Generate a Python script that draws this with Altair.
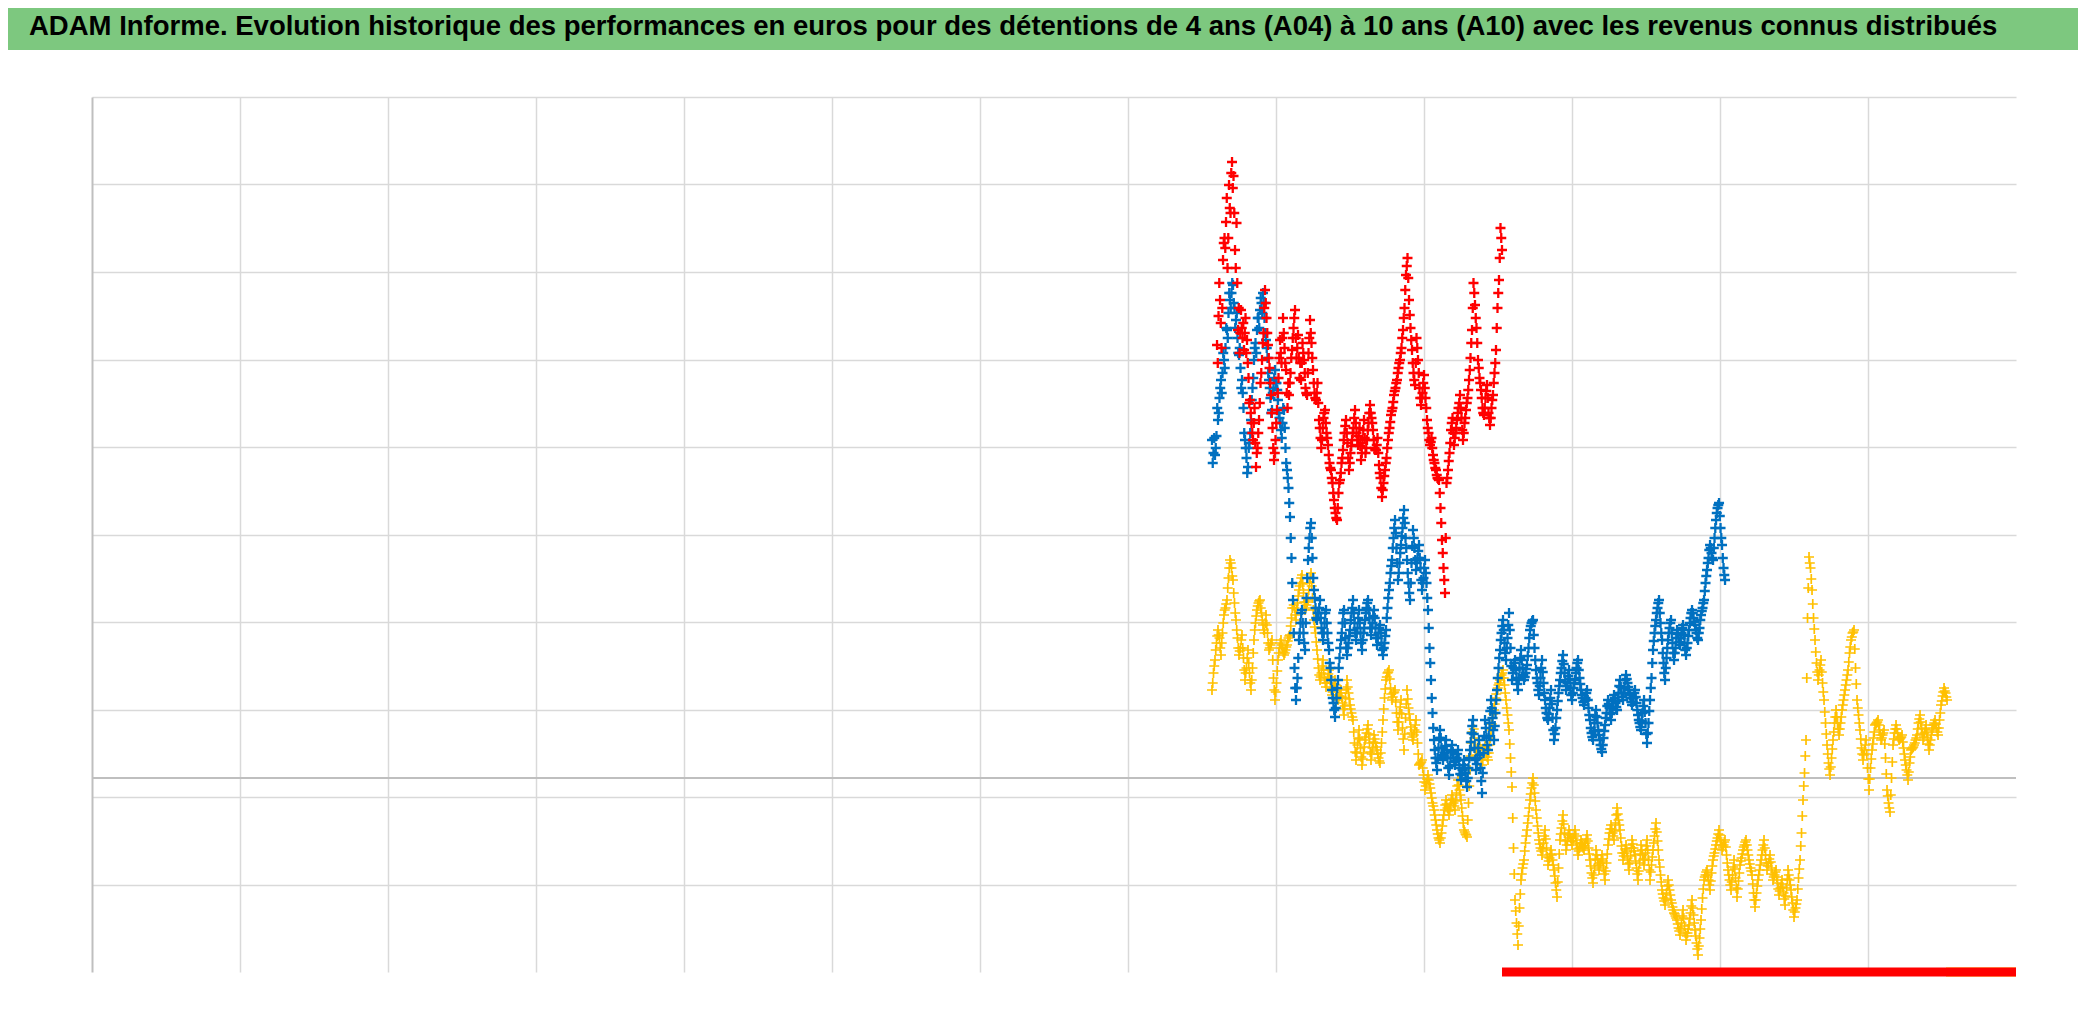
import altair as alt
import pandas as pd

TITRE = ("ADAM Informe. Evolution historique des performances en euros pour des "
         "détentions de 4 ans (A04) à 10 ans (A10) avec les revenus connus distribués")

# Dates (années décimales) : première et dernière observation de chaque série,
# observations à pas régulier entre les deux
DEBUT_A10, FIN_A10 = 2011.203, 2015.054
DEBUT_A07, FIN_A07 = 2011.135, 2018.068
DEBUT_A04, FIN_A04 = 2011.135, 2021.068

A10 = [4330, 4620, 4780, 4300, 5180, 5400, 5560, 5100, 5930, 5650, 6160, 6020, 5280, 5550,
       4480, 4250, 4680, 4400, 4280, 4600, 4380, 4000, 3780, 3550, 3380, 3700, 3110, 3300,
       3580, 3950, 4180, 4450, 4880, 4600, 4330, 4100, 3830, 3500, 3180, 3380, 3680, 4000,
       4380, 4150, 4600, 4300, 4080, 3700, 3830, 4050, 4280, 4500, 4680, 4200, 4430, 4000,
       3980, 4350, 4180, 3900, 3830, 4250, 4580, 4350, 4080, 3850, 3780, 3950, 3580, 3400,
       3380, 3600, 3680, 3450, 3330, 3150, 3080, 2950, 2780, 2650, 2580, 2850, 2980, 3150,
       3280, 3450, 3580, 3350, 3080, 3250, 3380, 3500, 3680, 3450, 3330, 3500, 3180, 3350,
       3580, 3250, 3380, 3550, 3730, 3600, 3480, 3300, 3280, 3400, 3130, 3000, 2810, 2950,
       3080, 3200, 3380, 3500, 3630, 3700, 3830, 3900, 3980, 4100, 4180, 4300, 4480, 4700,
       5030, 5200, 4780, 4500, 4280, 4050, 3930, 4400, 4180, 3900, 3730, 3850, 4030, 3800,
       3580, 3450, 3330, 3400, 3230, 3150, 3080, 3000, 2980, 2700, 2380, 2100, 1850, 2950,
       3080, 3250, 3480, 3600, 3330, 3450, 3580, 3700, 3830, 3600, 3380, 3550, 3680, 3800,
       3980, 4200, 4480, 4950, 4730, 4500, 4180, 4000, 3880, 3700, 3630, 3800, 3930, 3650,
       3530, 3700, 3830, 4050, 4280, 4700, 4980, 5500, 5280]
# observations intermédiaires (entre deux observations principales)
A10_INT = [4150, 4950, 4550, 4700, 5350, 5300, 5800, 5400, 5700, 6050, 5900, 5650, 5100, 4950,
           4700, 4450, 4500, 4550, 4450, 4250, 4150, 3750, 3650, 3450, 3550, 3350, 3250, 3450,
           3750, 4050, 4350, 4700, 4750, 4450, 4200, 3950, 3650, 3300, 3250, 3550, 3850, 4200,
           4250, 4400, 4450, 4150, 3850, 3950, 3950, 4200, 4400, 4600, 4400, 4300, 4200, 4150,
           4150, 4250, 4050, 3850, 4050, 4400, 4450, 4200, 3950, 3800, 3850, 3750, 3500, 3300,
           3500, 3650, 3550, 3400, 3230, 3100, 3000, 2850, 2700, 2600, 2700, 2950, 3050, 3200,
           3380, 3520, 3450, 3200, 3150, 3320, 3450, 3600, 3550, 3380, 3420, 3320, 3250, 3480,
           3400, 3300, 3480, 3650, 3650, 3550, 3380, 3280, 3330, 3250, 3050, 2900, 2880, 3020,
           3150, 3300, 3450, 3560, 3670, 3760, 3870, 3950, 4050, 4150, 4250, 4400, 4600, 4880,
           5120, 5000, 4630, 4380, 4150, 3980, 4150, 4300, 4050, 3800, 3800, 3950, 3900, 3700,
           3500, 3380, 3360, 3300, 3180, 3100, 3030, 2990, 2850, 2550, 2250, 1980, 2400, 3000,
           3170, 3350, 3550, 3450, 3400, 3500, 3650, 3750, 3700, 3480, 3450, 3600, 3750, 3880,
           4080, 4350, 4700, 4850, 4600, 4350, 4100, 3950, 3800, 3650, 3700, 3870, 3800, 3600,
           3600, 3780, 3950, 4150, 4500, 4850, 5200, 5400]

A07 = [3380, 3250, 3230, 3420, 3580, 3800, 3980, 4050, 4180, 4300, 4480, 4650, 4780, 4850,
       4930, 4700, 4580, 4400, 4230, 4100, 3980, 3700, 3380, 3200, 3110, 3350, 3580, 3900,
       4180, 4350, 4480, 4600, 4680, 4750, 4850, 4600, 4380, 4200, 3980, 3800, 3680, 3900,
       4080, 3950, 3780, 3600, 3480, 3550, 3680, 3300, 3080, 2900, 2610, 2200, 1780, 1100,
       780, 1000, 1380, 1550, 1680, 1450, 1280, 1800, 2180, 2400, 2550, 2200, 1880, 1700,
       1580, 1650, 1780, 1500, 1380, 1550, 1680, 1450, 1280, 1100, 880, 750, 610, 800,
       980, 1200, 1380, 1550, 1680, 1400, 1230, 1350, 1480, 1650, 1780, 1550, 1380, 1500,
       1680, 1450, 1280, 1450, 1580, 1700, 1780, 1600, 1430, 1550, 1680, 1500, 1330, 1450,
       1530, 1350, 1230, 1350, 1480, 1700, 1880, 2050, 2180, 2400, 2580, 2300, 1980, 2150,
       2330, 2500, 2680, 2400, 2180, 1950, 1780, 2150, 2480, 2300, 2080, 2200, 2330, 2100,
       1880, 2000, 2180, 1950, 1680, 1300, 980, 650, 380, 200, 80, 300, 480, 300,
       180, 250, 380, 200, 30, 200, 330, 200, 130, 200, 280, 100, -20, 80,
       180, 50, -90, 100, 280, 450, 580, 300, 80, 200, 380, 100, -150, 250,
       580, 400, 280, 550, 780, 600, 380, 650, 880, 1100, 1280, 1450, 1580, 1350,
       1180, 1400, 1650, 1300, 980, 1100, 1180, 1000, 880, 1100, 1280, 1100, 980, 1050,
       1130, 1300, 1480, 1550, 1580, 1300, 1080, 950, 830, 1000, 1180, 950, 780, 650,
       580, 700, 880, 600, 380, 500, 680, 850, 980, 1100, 1230, 1050, 880, 950,
       1080, 900, 780, 900, 980, 1100, 1180, 1000, 880, 800, 730, 800, 880, 700,
       580, 450, 380, 550, 680, 550, 430, 330, 260, 400, 530, 650, 780, 700,
       580, 700, 830, 750, 680, 850, 980, 850, 780, 900, 1030, 950, 880, 800,
       730, 800, 880, 750, 630, 550, 480, 650, 780, 550, 350, 550, 780, 1000,
       1280, 1450, 1580, 1700, 1780, 1550, 1380, 1150, 980, 1200, 1380, 1500, 1580, 1350,
       1180, 1300, 1480, 1400, 1330, 1450, 1530, 1350, 1230, 1350, 1480, 1600, 1680, 1600,
       1530, 1450, 1380, 1500, 1630, 1700, 1780, 1950, 2080, 2200, 2330, 2250, 2180, 2400,
       2580, 2700, 2750, 2500, 2330, 2100, 1980]
A07_INT = [3150, 3400, 3300, 3700, 3650, 3900, 3850, 4250, 4100, 4500, 4400, 4850, 4700, 4950,
           4750, 4500, 4650, 4250, 4300, 3900, 3850, 3450, 3300, 3050, 3300, 3450, 3780, 4000,
           4300, 4250, 4600, 4500, 4800, 4650, 4750, 4450, 4300, 4050, 3900, 3650, 3850, 4000,
           3950, 3880, 3650, 3550, 3400, 3700, 3500, 3150, 3000, 2750, 2400, 1950, 1450, 900,
           900, 1200, 1450, 1650, 1550, 1350, 1550, 2000, 2300, 2500, 2400, 2000, 1800, 1600,
           1650, 1700, 1600, 1450, 1450, 1650, 1550, 1350, 1150, 980, 800, 680, 700, 900,
           1100, 1300, 1450, 1650, 1550, 1300, 1300, 1420, 1580, 1700, 1650, 1450, 1450, 1600,
           1550, 1350, 1380, 1500, 1650, 1750, 1680, 1500, 1500, 1620, 1600, 1400, 1400, 1500,
           1450, 1280, 1300, 1420, 1600, 1800, 1950, 2120, 2300, 2500, 2450, 2150, 2050, 2250,
           2420, 2600, 2550, 2300, 2050, 1850, 1950, 2320, 2400, 2180, 2150, 2270, 2200, 1980,
           1950, 2100, 2050, 1800, 1500, 1150, 800, 500, 280, 150, 200, 400, 400, 230,
           220, 320, 280, 100, 120, 270, 260, 160, 170, 240, 180, 40, 30, 130,
           100, -30, 0, 200, 360, 520, 440, 180, 140, 300, 230, -30, 50, 420,
           500, 330, 420, 670, 700, 480, 520, 780, 1000, 1200, 1380, 1520, 1480, 1250,
           1300, 1530, 1480, 1120, 1050, 1150, 1080, 940, 1000, 1200, 1180, 1030, 1010, 1090,
           1220, 1400, 1520, 1570, 1430, 1180, 1000, 880, 920, 1100, 1060, 850, 700, 600,
           640, 800, 740, 480, 440, 600, 770, 920, 1050, 1170, 1140, 960, 920, 1020,
           990, 830, 850, 950, 1050, 1150, 1080, 940, 830, 760, 770, 850, 780, 630,
           500, 410, 470, 620, 610, 480, 380, 290, 330, 470, 600, 720, 740, 640,
           650, 770, 800, 710, 770, 920, 910, 810, 850, 980, 990, 910, 830, 760,
           760, 850, 810, 680, 580, 510, 570, 720, 660, 440, 450, 670, 900, 1150,
           1370, 1520, 1650, 1750, 1650, 1450, 1250, 1050, 1100, 1300, 1450, 1550, 1450, 1250,
           1250, 1400, 1440, 1360, 1400, 1500, 1430, 1280, 1300, 1420, 1550, 1650, 1650, 1560,
           1480, 1400, 1450, 1580, 1670, 1750, 1870, 2020, 2150, 2280, 2300, 2200, 2300, 2500,
           2650, 2730, 2620, 2400, 2200, 2030]

A04 = [880, 1050, 1180, 1350, 1480, 1400, 1230, 1450, 1630, 1700, 1780, 2000, 2180, 2100,
       1980, 1750, 1580, 1400, 1230, 1300,
       1430, 1200, 980, 1100, 1280, 1050, 880, 1100, 1380, 1550, 1680, 1750, 1780, 1650,
       1530, 1450, 1630, 1450, 1280, 1330,
       1380, 1000, 780, 950, 1180, 1300, 1380, 1300, 1230, 1280, 1330, 1400, 1430, 1600,
       1780, 1700, 1580, 1750, 1880, 1950,
       2030, 1850, 1680, 1730, 1780, 1950, 2050, 1800, 1580, 1450, 1280, 1100, 980, 1050,
       1180, 1000, 910, 1000, 1080, 950,
       830, 900, 980, 880, 780, 820, 880, 750, 630, 800, 980, 850, 730, 650,
       580, 350, 180, 330, 480, 300,
       130, 250, 380, 450, 530, 350, 180, 300, 430, 350, 280, 200, 150, 350,
       580, 800, 980, 1050, 1080, 900,
       780, 850, 880, 650, 480, 650, 780, 500, 280, 600, 880, 700, 580, 450,
       380, 480, 580, 350, 130, 150,
       180, 30, -120, -50, 30, -60, -150, -250, -320, -420, -520, -600, -650, -550,
       -420, -320, -220, -300, -370, -270,
       -170, -250, -320, -150, -20, -120, -220, -380, -520, -560, -590, -250, 80, 350,
       580, 400, 180, 280, 380, 250,
       130, 230, 330, 250, 180, 330, 480, 600, 680, 800, 880, 930, 980, 1030,
       1080, 930, 780, 630, 480, 200,
       -90, -700, -1220, -1450, -1670, -1300, -1020, -900, -820, -650, -520, -380, -220, -100,
       0, -150, -320, -480, -620, -700,
       -770, -650, -520, -700, -870, -800, -720, -820, -920, -1050, -1190, -900, -620, -500,
       -370, -550, -720, -620, -520, -600,
       -670, -600, -520, -650, -770, -700, -620, -680, -720, -650, -570, -700, -820, -950,
       -1050, -900, -720, -820, -920, -850,
       -770, -900, -1020, -850, -670, -550, -470, -550, -620, -450, -300, -420, -520, -680,
       -820, -750, -670, -800, -920, -780,
       -620, -700, -770, -900, -1020, -850, -670, -770, -870, -750, -620, -820, -1020, -870,
       -720, -580, -450, -630, -820, -970,
       -1120, -1200, -1270, -1150, -1020, -1120, -1220, -1290, -1350, -1380, -1420, -1500, -1570, -1450,
       -1320, -1480, -1620, -1550, -1470, -1350,
       -1220, -1370, -1520, -1650, -1770, -1600, -1420, -1200, -1020, -970, -920, -1020, -1120, -950,
       -820, -750, -670, -600, -520, -620,
       -720, -670, -620, -770, -920, -1020, -1120, -970, -820, -1000, -1190, -1030, -870, -800,
       -720, -670, -620, -720, -820, -900,
       -970, -1150, -1290, -1150, -1020, -920, -820, -720, -620, -770, -920, -850, -770, -900,
       -1020, -970, -920, -1050, -1170, -1100,
       -1020, -1150, -1270, -1100, -920, -1020, -1120, -1250, -1390, -1300, -1220, -1000, -820, -550,
       -220, 50, 380, 1600, 2210, 2100,
       1880, 1600, 1380, 1150, 980, 1080, 1180, 950, 780, 550, 330, 150, 30, 200,
       380, 550, 680, 550, 430, 550,
       680, 780, 880, 980, 1080, 1250, 1380, 1450, 1480, 1100, 780, 630, 480, 300,
       180, 280, 380, 100, -120, 100,
       280, 400, 530, 550, 580, 480, 380, 430, 480, 200, -120, -250, -340, 0,
       330, 450, 530, 450, 380, 400,
       430, 300, 180, 80, -20, 150, 280, 300, 330, 380, 430, 550, 630, 500,
       380, 450, 530, 400, 280, 380,
       480, 530, 580, 500, 430, 580, 730, 820, 900, 850, 780]
A04_INT = [950, 1120, 1280, 1420, 1430, 1300, 1350, 1550, 1680, 1740, 1900, 2100, 2150, 2020,
           1850, 1650, 1480, 1300, 1270, 1380,
           1300, 1080, 1050, 1200, 1150, 950, 980, 1250, 1480, 1620, 1720, 1770, 1700, 1580,
           1480, 1550, 1530, 1350, 1300, 1350,
           1180, 880, 860, 1070, 1250, 1350, 1330, 1260, 1250, 1310, 1370, 1420, 1520, 1700,
           1730, 1630, 1680, 1820, 1920, 2000,
           1940, 1760, 1700, 1760, 1880, 2000, 1920, 1680, 1510, 1360, 1190, 1030, 1010, 1120,
           1080, 950, 950, 1040, 1010, 890,
           860, 940, 930, 830, 800, 850, 810, 690, 720, 890, 910, 790, 690, 610,
           460, 260, 250, 400, 390, 210,
           190, 310, 410, 490, 440, 260, 240, 360, 390, 310, 240, 170, 250, 460,
           690, 890, 1010, 1060, 990, 840,
           810, 860, 760, 560, 560, 710, 640, 390, 440, 740, 790, 640, 510, 410,
           430, 530, 460, 240, 140, 160,
           100, -40, -80, -10, -20, -100, -200, -280, -370, -470, -560, -620, -600, -480,
           -370, -270, -260, -330, -320, -220,
           -210, -280, -230, -80, -70, -170, -300, -450, -540, -570, -420, -80, 220, 460,
           490, 290, 230, 330, 310, 190,
           180, 280, 290, 210, 250, 400, 540, 640, 740, 840, 900, 950, 1000, 1050,
           1000, 850, 700, 550, 340, 60,
           -400, -960, -1330, -1560, -1480, -1160, -960, -860, -730, -580, -450, -300, -160, -50,
           -70, -230, -400, -550, -660, -730,
           -710, -580, -610, -790, -830, -760, -770, -870, -980, -1120, -1040, -760, -560, -430,
           -460, -630, -670, -570, -560, -630,
           -630, -560, -580, -710, -730, -660, -650, -700, -680, -610, -630, -760, -880, -1000,
           -970, -810, -770, -870, -880, -810,
           -830, -960, -930, -760, -610, -510, -510, -580, -530, -370, -360, -470, -600, -750,
           -780, -710, -730, -860, -850, -700,
           -660, -730, -830, -960, -930, -760, -720, -820, -810, -680, -720, -920, -940, -790,
           -650, -510, -540, -720, -890, -1040,
           -1160, -1230, -1210, -1080, -1070, -1170, -1250, -1320, -1360, -1400, -1460, -1530, -1510, -1380,
           -1400, -1550, -1580, -1510, -1410, -1280,
           -1300, -1450, -1580, -1710, -1680, -1510, -1310, -1110, -990, -940, -970, -1070, -1030, -880,
           -780, -710, -630, -560, -570, -670,
           -690, -640, -690, -850, -970, -1070, -1040, -890, -910, -1100, -1110, -950, -830, -760,
           -690, -640, -670, -770, -860, -930,
           -1060, -1220, -1220, -1080, -970, -870, -770, -670, -700, -850, -880, -810, -840, -960,
           -990, -940, -990, -1110, -1130, -1060,
           -1090, -1210, -1180, -1010, -970, -1070, -1190, -1320, -1340, -1260, -1110, -910, -680, -380,
           -80, 220, 1000, 1900, 2150, 1990,
           1740, 1490, 1260, 1060, 1030, 1130, 1060, 860, 660, 440, 240, 90, 110, 290,
           460, 610, 610, 490, 490, 610,
           730, 830, 930, 1030, 1160, 1310, 1410, 1460, 1290, 940, 700, 550, 390, 240,
           230, 330, 240, -10, -10, 190,
           340, 460, 540, 560, 530, 430, 400, 450, 340, 40, -180, -300, -170, 160,
           390, 490, 490, 410, 390, 410,
           360, 240, 130, 30, 60, 210, 290, 310, 350, 400, 490, 590, 560, 440,
           410, 490, 460, 340, 330, 430,
           500, 550, 540, 460, 500, 650, 770, 860, 870, 810]

# Périodes de revenus connus distribués (plancher de l'axe)
REV_SERIES = ["A04", "A10"]
REV_DEBUT = [2021.054, 2015.054]
REV_FIN = [2022.0, 2022.0]

Y_MIN, Y_MAX = -1940, 6810
X_MIN, X_MAX = 1996, 2022
Y_GRID = [-1065, -190, 685, 1560, 2435, 3310, 4185, 5060, 5935, 6810]
X_GRID = [1998, 2000, 2002, 2004, 2006, 2008, 2010, 2012, 2014, 2016, 2018, 2020]

COULEURS = {"A10": "#FF0000", "A07": "#0070C0", "A04": "#FFC000"}


def dates(debut, fin, n):
    pas = (fin - debut) / (n - 1)
    return [debut + i * pas for i in range(n)]


def serie(nom, debut, fin, vals, vals_int):
    n = len(vals)
    pas = (fin - debut) / (n - 1)
    x_principal = dates(debut, fin, n)
    x_inter = dates(debut + pas / 2, fin - pas / 2, len(vals_int))
    return pd.DataFrame({
        "année": x_principal + x_inter,
        "valeur": list(vals) + list(vals_int),
        "série": nom,
    })


x_enc = alt.X("année:Q",
              scale=alt.Scale(domain=[X_MIN, X_MAX], nice=False, zero=False),
              axis=alt.Axis(values=X_GRID, labels=False, ticks=False, domain=False,
                            title=None, grid=True))
y_enc = alt.Y("valeur:Q",
              scale=alt.Scale(domain=[Y_MIN, Y_MAX], nice=False, zero=False),
              axis=alt.Axis(values=Y_GRID, labels=False, ticks=False, domain=True,
                            title=None, grid=True))

PLUS = "M-1,0L1,0M0,-1L0,1"


def points(nom, debut, fin, vals, vals_int, sw):
    return alt.Chart(serie(nom, debut, fin, vals, vals_int)).mark_point(
        shape=PLUS, filled=False, size=100, strokeWidth=sw,
        color=COULEURS[nom], opacity=1
    ).encode(x=x_enc, y=y_enc)


zero = alt.Chart(pd.DataFrame({"v": [0]})).mark_rule(
    color="#BFBFBF", strokeWidth=2
).encode(y=alt.Y("v:Q", scale=alt.Scale(domain=[Y_MIN, Y_MAX], nice=False, zero=False)))

rev_df = pd.DataFrame({"série": REV_SERIES, "début": REV_DEBUT, "fin": REV_FIN,
                       "valeur": [Y_MIN] * len(REV_SERIES)})
revenus = alt.Chart(rev_df).mark_rule(strokeWidth=9).encode(
    x=alt.X("début:Q", scale=alt.Scale(domain=[X_MIN, X_MAX], nice=False, zero=False)),
    x2="fin:Q",
    y=alt.Y("valeur:Q", scale=alt.Scale(domain=[Y_MIN, Y_MAX], nice=False, zero=False)),
    color=alt.Color("série:N",
                    scale=alt.Scale(domain=list(COULEURS.keys()),
                                    range=list(COULEURS.values())),
                    legend=None),
)

bandeau = alt.Chart(pd.DataFrame({"k": [0]})).mark_rect(color="#7DC87F").encode(
    x=alt.value(-84), x2=alt.value(1986), y=alt.value(-89), y2=alt.value(-47)
)
titre = alt.Chart(pd.DataFrame({"t": [TITRE]})).mark_text(
    align="left", baseline="middle",
    font="Liberation Sans",
    fontSize=27.5, fontWeight="bold", color="#000000"
).encode(text="t:N", x=alt.value(-63), y=alt.value(-70))

chart = alt.layer(
    zero,
    points("A04", DEBUT_A04, FIN_A04, A04, A04_INT, 1.7),
    points("A07", DEBUT_A07, FIN_A07, A07, A07_INT, 2.3),
    points("A10", DEBUT_A10, FIN_A10, A10, A10_INT, 2.3),
    revenus,
    bandeau,
    titre,
).properties(
    width=1924, height=875,
    padding={"left": 84, "top": 89, "right": 62, "bottom": 51},
    autosize=alt.AutoSizeParams(type="none"),
    background="white",
).configure_view(stroke=None).configure_axis(
    gridColor="#D9D9D9", gridWidth=1.5, domainColor="#BFBFBF", domainWidth=2
)

chart.save("out.html", embed_options={"renderer": "svg", "actions": False})
